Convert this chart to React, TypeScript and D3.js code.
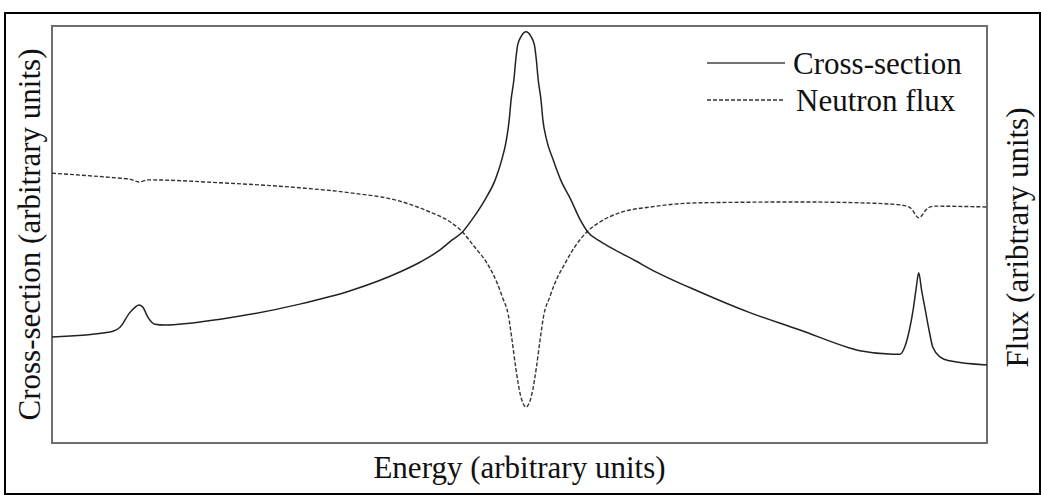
import React from "react";
import * as d3 from "d3";

// Energy (arbitrary units, 0–100) and cross-section values (arbitrary units, 0–100)
const xsEnergy = [
  0, 6.2, 7.3, 8.3, 8.9, 9.3, 9.7, 10.3, 11.0, 12.1, 18.0, 26.5, 31.9, 37.2, 39.4,
  41.5, 42.8, 43.9, 44.9, 46.3, 47.4, 48.1, 48.6, 48.9, 49.1, 49.4, 49.6, 49.8,
  50.2, 50.7, 51.2, 51.6, 51.8, 52.0, 52.3, 52.5, 52.9, 53.6, 54.4, 55.5, 56.5,
  57.3, 58.6, 60.2, 62.4, 64.0, 69.3, 74.7, 80.0, 85.3, 86.4, 89.9, 90.7, 91.2,
  91.7, 92.1, 92.4, 92.7, 93.0, 93.4, 93.8, 94.2, 95.0, 96.0, 100,
];
const xsValue = [
  25.4, 26.6, 27.8, 31.2, 32.6, 33.1, 32.6, 30.0, 28.5, 28.3, 29.7, 33.3, 36.5,
  41.0, 43.4, 46.3, 48.7, 50.6, 53.5, 58.3, 63.1, 67.9, 72.7, 77.5, 82.3, 87.1,
  91.9, 95.4, 97.6, 98.6, 97.6, 95.4, 91.9, 87.1, 82.3, 77.5, 72.7, 67.9, 63.1,
  58.3, 53.5, 50.6, 48.4, 46.3, 43.7, 41.7, 36.2, 31.2, 27.1, 22.8, 22.1, 21.3,
  21.3, 23.0, 27.1, 31.9, 36.7, 40.8, 36.7, 31.9, 27.1, 23.0, 20.6, 19.7, 18.7,
];

// Energy and neutron flux values (arbitrary units, 0–100)
const fluxEnergy = [
  0, 7.3, 8.3, 9.3, 10.3, 18.0, 26.5, 31.9, 37.2, 40.4, 42.6, 43.9, 45.2, 46.5,
  47.6, 48.2, 48.8, 49.2, 49.6, 50.1, 50.4, 50.7, 51.0, 51.3, 51.8, 52.2, 52.6,
  53.2, 53.8, 54.9, 55.9, 57.2, 58.6, 60.7, 64.0, 69.3, 80.0, 86.4, 90.7, 91.8,
  92.7, 93.7, 94.4, 100,
];
const fluxValue = [
  64.7, 63.5, 63.3, 62.6, 63.1, 62.4, 61.2, 60.0, 58.0, 55.4, 53.0, 50.6, 47.0,
  43.2, 38.4, 34.8, 30.7, 24.7, 18.0, 11.5, 9.4, 8.6, 9.4, 11.5, 18.0, 24.7, 30.7,
  34.8, 38.4, 43.2, 47.0, 50.6, 53.0, 55.2, 56.6, 57.6, 57.8, 57.6, 57.1, 56.4,
  54.0, 56.4, 56.8, 56.6,
];

const legendLabels = ["Cross-section", "Neutron flux"];
const xLabel = "Energy (arbitrary units)";
const yLabelLeft = "Cross-section (arbitrary units)";
const yLabelRight = "Flux (aribtrary units)";

const W = 1041;
const H = 495;
const plot = { left: 52, top: 26, right: 987, bottom: 443 };
const FONT = "'Liberation Serif', 'Times New Roman', serif";

export default function App() {
  const x = d3.scaleLinear().domain([0, 100]).range([plot.left, plot.right]);
  const yXs = d3.scaleLinear().domain([0, 100]).range([plot.bottom, plot.top]);
  const yFlux = d3.scaleLinear().domain([0, 100]).range([plot.bottom, plot.top]);

  const xsPts: [number, number][] = xsEnergy.map((e, i) => [e, xsValue[i]]);
  const fluxPts: [number, number][] = fluxEnergy.map((e, i) => [e, fluxValue[i]]);

  const xsLine = d3
    .line<[number, number]>()
    .x((d) => x(d[0]))
    .y((d) => yXs(d[1]))
    .curve(d3.curveMonotoneX);
  const fluxLine = d3
    .line<[number, number]>()
    .x((d) => x(d[0]))
    .y((d) => yFlux(d[1]))
    .curve(d3.curveMonotoneX);

  const midY = (plot.top + plot.bottom) / 2;

  return (
    <svg
      width={W}
      height={H}
      style={{ position: "absolute", left: 0, top: 0, background: "#fff" }}
      fontFamily={FONT}
    >
      <rect x={0} y={0} width={W} height={H} fill="#fff" />
      {/* outer frame */}
      <rect x={5} y={13} width={1035} height={481} fill="none" stroke="#000" strokeWidth={2} />
      {/* plot frame */}
      <rect
        x={plot.left}
        y={plot.top}
        width={plot.right - plot.left}
        height={plot.bottom - plot.top}
        fill="none"
        stroke="#6e6e6e"
        strokeWidth={2}
      />
      <path d={fluxLine(fluxPts) ?? ""} fill="none" stroke="#333" strokeWidth={1.4} strokeDasharray="4,2" />
      <path d={xsLine(xsPts) ?? ""} fill="none" stroke="#222" strokeWidth={1.5} />

      {/* legend */}
      <line x1={707} x2={785} y1={63} y2={63} stroke="#444" strokeWidth={1.5} />
      <text x={793} y={74} fontSize={31} fill="#111">{legendLabels[0]}</text>
      <line x1={707} x2={785} y1={100} y2={100} stroke="#333" strokeWidth={1.4} strokeDasharray="4,2" />
      <text x={796} y={111} fontSize={31} fill="#111">{legendLabels[1]}</text>

      {/* axis titles */}
      <text x={(plot.left + plot.right) / 2} y={478} fontSize={31} textAnchor="middle" fill="#111">
        {xLabel}
      </text>
      <text
        transform={`translate(40,${midY}) rotate(-90)`}
        fontSize={31}
        textAnchor="middle"
        fill="#111"
      >
        {yLabelLeft}
      </text>
      <text
        transform={`translate(1028,${midY + 3}) rotate(-90)`}
        fontSize={31}
        textAnchor="middle"
        fill="#111"
      >
        {yLabelRight}
      </text>
    </svg>
  );
}
